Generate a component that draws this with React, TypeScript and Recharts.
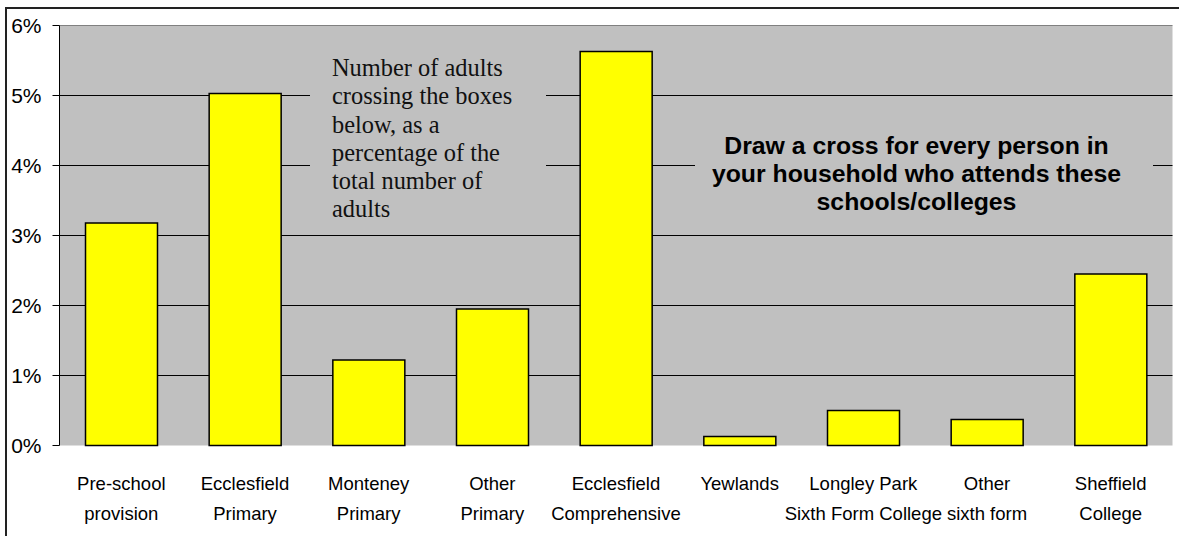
import React from 'react'
import {
  BarChart,
  Bar,
  XAxis,
  YAxis,
  CartesianGrid,
  ReferenceLine,
} from 'recharts'

const categories = [
  'Pre-school\nprovision',
  'Ecclesfield\nPrimary',
  'Monteney\nPrimary',
  'Other\nPrimary',
  'Ecclesfield\nComprehensive',
  'Yewlands',
  'Longley Park\nSixth Form College',
  'Other\nsixth form',
  'Sheffield\nCollege',
]

// percentage of adults
const values = [3.18, 5.03, 1.22, 1.95, 5.63, 0.13, 0.5, 0.37, 2.45]

const yTicks = [0, 1, 2, 3, 4, 5, 6]
const edgeTicks = [0, 1, 2, 3, 4, 5, 6, 7, 8, 9]

const noteLeft = 'Number of adults crossing the boxes below, as a percentage of the total number of adults'
const noteRight = 'Draw a cross for every person in your household who attends these schools/colleges'

const data = categories.map((name, i) => ({ name, value: values[i] }))

const SANS = '"Liberation Sans", Arial, sans-serif'
const SERIF = '"Liberation Serif", "Times New Roman", serif'

const CategoryTick = ({ x, y, payload }: any) => {
  const lines = String(payload.value).split('\n')
  return (
    <g>
      {lines.map((line, i) => (
        <text
          key={i}
          x={x}
          y={y + 44.5 + i * 30}
          textAnchor="middle"
          fontSize={18.5}
          fontFamily={SANS}
          fill="#000"
        >
          {line}
        </text>
      ))}
    </g>
  )
}

export default function App() {
  return (
    <div style={{ position: 'absolute', left: 0, top: 0, width: 1179, height: 536, background: '#fff', overflow: 'hidden' }}>
      <BarChart
        width={1179}
        height={536}
        data={data}
        margin={{ top: 25.5, right: 6.5, left: 0, bottom: 0 }}
      >
        <CartesianGrid
          vertical={false}
          horizontalValues={[1, 2, 3, 4, 5]}
          stroke="#000"
          fill="#C0C0C0"
          fillOpacity={1}
        />
        <XAxis
          xAxisId="edge"
          type="number"
          domain={[0, 9]}
          ticks={edgeTicks}
          height={0}
          tickSize={7}
          tick={() => <g />}
          stroke="#000"
          axisLine={{ stroke: '#000' }}
          tickLine={{ stroke: '#000' }}
        />
        <XAxis
          xAxisId="cat"
          dataKey="name"
          height={90.5}
          interval={0}
          axisLine={false}
          tickLine={false}
          tickSize={0}
          tickMargin={0}
          tick={<CategoryTick />}
        />
        <YAxis
          width={59.5}
          domain={[0, 6]}
          ticks={yTicks}
          tickFormatter={(v) => `${v}%`}
          tickSize={7}
          tickMargin={11}
          interval={0}
          axisLine={{ stroke: '#000' }}
          tickLine={{ stroke: '#000' }}
          tick={{ fill: '#000', fontSize: 21, fontFamily: SANS }}
        />
        <YAxis
          yAxisId="right"
          orientation="right"
          width={0}
          domain={[0, 6]}
          tick={false}
          tickLine={false}
          axisLine={{ stroke: '#808080' }}
        />
        <ReferenceLine y={6} stroke="#808080" />
        <Bar
          xAxisId="cat"
          dataKey="value"
          fill="#FFFF00"
          stroke="#000"
          strokeWidth={1.5}
          barSize={72}
          isAnimationActive={false}
        />
      </BarChart>

      <div
        style={{
          position: 'absolute',
          left: 310,
          top: 50,
          width: 236,
          height: 176,
          background: '#C0C0C0',
          boxSizing: 'border-box',
          padding: '4px 6px 0 22px',
          fontFamily: SERIF,
          fontSize: 24.4,
          lineHeight: '28.3px',
          color: '#111',
          overflow: 'hidden',
        }}
      >
        {noteLeft}
      </div>

      <div
        style={{
          position: 'absolute',
          left: 695,
          top: 125,
          width: 458,
          height: 91,
          background: '#C0C0C0',
          boxSizing: 'border-box',
          padding: '7px 26px 0 11px',
          fontFamily: SANS,
          fontWeight: 'bold',
          fontSize: 24.8,
          lineHeight: '28px',
          textAlign: 'center',
          color: '#000',
          overflow: 'hidden',
        }}
      >
        {noteRight}
      </div>

      <div
        style={{
          position: 'absolute',
          left: 5,
          top: 7,
          width: 1200,
          height: 560,
          border: '2px solid #222',
          boxSizing: 'border-box',
          pointerEvents: 'none',
        }}
      />
    </div>
  )
}
